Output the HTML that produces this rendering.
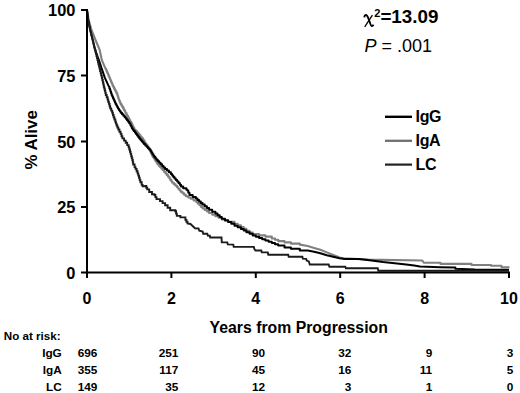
<!DOCTYPE html>
<html><head><meta charset="utf-8"><style>
html,body{margin:0;padding:0;background:#fff;width:520px;height:393px;overflow:hidden}
svg{display:block}
text{font-family:"Liberation Sans",sans-serif}
</style></head><body>
<svg width="520" height="393" viewBox="0 0 520 393">
<polyline points="87.0,10.0 88.7,20.0 91.5,30.0 95.5,40.0 97.2,44.0 99.7,50.0 101.8,60.0 105.6,68.9 106.2,68.9 106.2,70.4 106.8,70.4 106.8,71.9 107.4,71.9 107.4,73.3 108.1,73.3 108.1,74.8 108.7,74.8 108.7,76.3 109.3,76.3 109.3,77.8 110.0,77.8 110.0,79.3 110.6,79.3 110.6,80.8 111.2,80.8 111.2,82.2 111.9,82.2 111.9,83.7 112.5,83.7 112.5,85.2 113.2,85.2 113.2,86.7 114.0,86.7 114.0,88.4 114.8,88.4 114.8,90.0 115.7,90.0 115.7,91.7 116.5,91.7 116.5,93.3 117.3,93.3 117.3,95.0 117.8,95.0 117.8,96.5 118.2,96.5 118.2,98.0 118.7,98.0 118.7,99.5 119.3,99.5 119.3,101.0 119.9,101.0 119.9,102.4 120.5,102.4 120.5,103.9 121.4,103.9 121.4,105.4 122.3,105.4 122.3,106.9 123.2,106.9 123.2,108.4 123.9,108.4 123.9,109.9 124.7,109.9 124.7,111.3 125.4,111.3 125.4,112.8 126.3,112.8 126.3,114.3 127.1,114.3 127.1,115.8 128.0,115.8 128.0,117.3 128.8,117.3 128.8,118.8 129.5,118.8 129.5,120.2 130.3,120.2 130.3,121.7 131.2,121.7 131.2,123.3 132.1,123.3 132.1,125.0 132.8,125.0 132.8,126.6 133.6,126.6 133.6,128.1 134.3,128.1 134.3,129.7 135.6,129.7 135.6,131.1 136.9,131.1 136.9,132.5 138.2,132.5 138.2,133.9 139.4,133.9 139.4,135.4 140.5,135.4 140.5,136.9 141.7,136.9 141.7,138.4 143.1,138.4 143.1,140.4 144.5,140.4 144.5,142.3 145.5,142.3 145.5,143.7 146.5,143.7 146.5,145.1 147.5,145.1 147.5,146.5 148.5,146.5 148.5,148.2 149.5,148.2 149.5,150.0 150.3,150.0 150.3,151.8 151.1,151.8 151.1,153.6 151.9,153.6 151.9,155.4 152.8,155.4 152.8,156.9 153.8,156.9 153.8,158.3 154.7,158.3 154.7,159.8 155.6,159.8 155.6,161.3 156.6,161.3 156.6,162.8 157.5,162.8 157.5,164.3 158.8,164.3 158.8,165.8 160.2,165.8 160.2,167.2 161.5,167.2 161.5,168.7 162.8,168.7 162.8,170.3 164.2,170.3 164.2,171.9 165.5,171.9 165.5,173.5 166.8,173.5 166.8,175.1 168.1,175.1 168.1,176.8 169.4,176.8 169.4,178.4 170.3,178.4 170.3,179.9 171.3,179.9 171.3,181.3 172.2,181.3 172.2,182.8 173.8,182.8 173.8,184.3 175.5,184.3 175.5,185.8 177.1,185.8 177.1,187.3 178.3,187.3 178.3,188.8 179.5,188.8 179.5,190.2 180.7,190.2 180.7,191.7 182.4,191.7 182.4,193.2 184.1,193.2 184.1,194.7 185.8,194.7 185.8,196.2 188.2,196.2 188.2,197.5 190.7,197.5 190.7,198.8 193.6,198.8 193.6,200.5 196.4,200.5 196.4,202.2 198.0,202.2 198.0,203.8 199.6,203.8 199.6,205.3 201.1,205.3 201.1,206.9 202.7,206.9 202.7,208.5 204.8,208.5 204.8,210.0 207.0,210.0 207.0,211.5 209.1,211.5 209.1,213.0 212.2,213.0 212.2,214.6 215.4,214.6 215.4,216.2 218.6,216.2 218.6,217.8 221.8,217.8 221.8,219.4 225.0,219.4 225.0,220.7 228.2,220.7 228.2,221.9 234.5,221.9 234.5,223.8 237.7,223.8 237.7,225.4 240.9,225.4 240.9,227.0 243.7,227.0 243.7,228.9 246.4,228.9 246.4,230.9 249.6,230.9 249.6,232.5 252.7,232.5 252.7,234.1 259.1,234.1 259.1,235.4 265.4,235.4 265.4,236.6 271.8,236.6 271.8,238.5 275.0,238.5 275.0,239.8 278.2,239.8 278.2,241.1 284.5,241.1 284.5,242.4 290.9,242.4 290.9,243.6 299.8,243.6 299.8,244.6 307.7,246.0 314.1,247.9 320.4,249.8 326.8,252.4 333.2,254.9 339.5,257.4 343.3,258.3 368.5,259.6 422.3,260.5 423.8,262.8 440.5,262.8 440.5,263.9 471.5,263.9 471.5,265.0 491.0,265.0 491.0,265.8 501.5,265.8 501.5,267.2 509.5,267.2" fill="none" stroke="#808080" stroke-width="2.1" stroke-linejoin="round"/>
<polyline points="87.0,10.0 88.2,20.0 90.2,30.0 92.8,40.0 95.2,50.0 98.9,60.0 101.8,68.9 104.9,77.8 108.9,86.7 109.4,86.7 109.4,88.4 110.0,88.4 110.0,90.0 110.5,90.0 110.5,91.7 111.1,91.7 111.1,93.3 111.6,93.3 111.6,95.0 112.3,95.0 112.3,96.5 112.9,96.5 112.9,98.0 113.6,98.0 113.6,99.5 114.3,99.5 114.3,101.0 114.9,101.0 114.9,102.4 115.6,102.4 115.6,103.9 116.4,103.9 116.4,105.4 117.2,105.4 117.2,106.9 118.0,106.9 118.0,108.4 118.9,108.4 118.9,109.9 119.8,109.9 119.8,111.3 120.7,111.3 120.7,112.8 122.0,112.8 122.0,114.3 123.4,114.3 123.4,115.8 124.7,115.8 124.7,117.3 125.9,117.3 125.9,118.8 127.0,118.8 127.0,120.2 128.2,120.2 128.2,121.7 129.2,121.7 129.2,123.3 130.3,123.3 130.3,125.0 131.1,125.0 131.1,126.5 131.8,126.5 131.8,128.0 132.6,128.0 132.6,129.5 133.7,129.5 133.7,131.0 134.9,131.0 134.9,132.4 136.0,132.4 136.0,133.9 137.1,133.9 137.1,135.4 138.2,135.4 138.2,136.9 139.3,136.9 139.3,138.4 140.4,138.4 140.4,139.8 141.5,139.8 141.5,141.1 142.6,141.1 142.6,142.5 143.9,142.5 143.9,143.9 145.3,143.9 145.3,145.4 146.6,145.4 146.6,146.8 147.9,146.8 147.9,148.2 149.3,148.2 149.3,149.5 150.6,149.5 150.6,150.9 151.5,150.9 151.5,152.4 152.4,152.4 152.4,153.9 153.3,153.9 153.3,155.4 154.3,155.4 154.3,156.9 155.4,156.9 155.4,158.3 156.4,158.3 156.4,159.8 157.8,159.8 157.8,161.3 159.2,161.3 159.2,162.8 160.6,162.8 160.6,164.3 162.1,164.3 162.1,165.9 163.5,165.9 163.5,167.4 165.0,167.4 165.0,169.0 167.0,169.0 167.0,170.6 168.9,170.6 168.9,172.3 170.9,172.3 170.9,173.9 172.1,173.9 172.1,175.4 173.3,175.4 173.3,176.9 174.5,176.9 174.5,178.4 175.8,178.4 175.8,180.0 177.2,180.0 177.2,181.5 178.5,181.5 178.5,183.1 179.8,183.1 179.8,184.8 181.0,184.8 181.0,186.5 183.2,186.5 183.2,188.2 186.4,188.2 186.4,189.8 187.5,189.8 187.5,190.6 188.3,190.6 188.3,192.8 189.5,192.8 189.5,195.0 192.7,195.0 192.7,197.0 195.9,197.0 195.9,198.5 197.5,198.5 197.5,199.9 199.1,199.9 199.1,201.4 200.8,201.4 200.8,202.9 202.5,202.9 202.5,204.4 204.7,204.4 204.7,206.2 206.9,206.2 206.9,208.0 209.1,208.0 209.1,209.8 212.2,209.8 212.2,211.7 215.4,211.7 215.4,213.6 217.5,213.6 217.5,215.3 219.7,215.3 219.7,217.0 221.8,217.0 221.8,218.7 225.0,218.7 225.0,220.3 228.2,220.3 228.2,221.9 231.3,221.9 231.3,223.8 234.5,223.8 234.5,225.7 237.7,225.7 237.7,227.3 240.9,227.3 240.9,228.9 243.7,228.9 243.7,230.6 246.4,230.6 246.4,232.2 249.6,232.2 249.6,233.8 252.7,233.8 252.7,235.4 255.9,235.4 255.9,236.7 259.1,236.7 259.1,237.9 262.2,237.9 262.2,239.2 265.4,239.2 265.4,240.4 268.6,240.4 268.6,241.7 271.8,241.7 271.8,243.0 275.0,243.0 275.0,244.2 278.2,244.2 278.2,245.5 284.5,245.5 284.5,247.4 290.9,247.4 290.9,248.7 299.8,248.7 299.8,250.4 307.7,250.6 314.1,251.7 320.4,253.2 326.8,255.3 333.2,256.8 339.5,258.3 345.0,259.0 359.2,259.0 371.5,260.4 383.0,262.1 394.6,263.3 406.2,264.4 414.2,265.6 420.0,266.5 440.0,267.2 455.4,267.5 455.4,268.7 474.8,269.5 509.0,269.8" fill="none" stroke="#000" stroke-width="2" stroke-linejoin="round"/>
<polyline points="87.0,10.0 88.2,20.0 90.2,30.0 92.6,40.0 95.0,50.0 95.5,50.0 95.5,52.0 96.0,52.0 96.0,54.0 96.5,54.0 96.5,56.0 97.0,56.0 97.0,58.0 97.5,58.0 97.5,60.0 98.0,60.0 98.0,62.2 98.5,62.2 98.5,64.5 99.1,64.5 99.1,66.7 99.6,66.7 99.6,68.9 100.1,68.9 100.1,71.1 100.7,71.1 100.7,73.3 101.2,73.3 101.2,75.6 101.8,75.6 101.8,77.8 102.3,77.8 102.3,80.0 102.8,80.0 102.8,82.2 103.3,82.2 103.3,84.5 103.8,84.5 103.8,86.7 104.3,86.7 104.3,88.8 104.8,88.8 104.8,90.8 105.3,90.8 105.3,92.9 105.8,92.9 105.8,95.0 106.7,95.0 106.7,97.2 107.6,97.2 107.6,99.5 108.2,99.5 108.2,101.7 108.9,101.7 108.9,103.9 109.6,103.9 109.6,106.2 110.2,106.2 110.2,108.4 111.2,108.4 111.2,110.6 112.2,110.6 112.2,112.8 112.9,112.8 112.9,115.0 113.6,115.0 113.6,117.3 114.4,117.3 114.4,119.5 115.3,119.5 115.3,121.7 115.9,121.7 115.9,123.6 116.6,123.6 116.6,125.5 117.4,125.5 117.4,127.5 118.3,127.5 118.3,129.5 119.4,129.5 119.4,131.7 120.6,131.7 120.6,133.9 121.5,133.9 121.5,136.2 122.4,136.2 122.4,138.4 124.1,138.4 124.1,140.6 125.7,140.6 125.7,142.8 127.2,142.8 127.2,145.1 128.6,145.1 128.6,147.3 129.3,147.3 129.3,149.5 130.0,149.5 130.0,151.7 130.6,151.7 130.6,153.9 131.2,153.9 131.2,156.2 131.8,156.2 131.8,158.1 132.3,158.1 132.3,160.0 132.8,160.0 132.8,162.2 133.2,162.2 133.2,164.5 134.6,164.5 134.6,167.1 135.5,167.1 135.5,168.9 136.6,168.9 136.6,171.2 137.6,171.2 137.6,173.4 138.3,173.4 138.3,175.6 139.0,175.6 139.0,177.8 139.7,177.8 139.7,180.1 140.4,180.1 140.4,182.3 141.7,182.3 141.7,184.9 142.6,184.9 142.6,186.3 145.5,186.3 145.5,186.0 146.3,186.0 146.3,187.7 147.2,187.7 147.2,189.4 149.2,189.4 149.2,192.0 152.0,192.0 152.0,194.3 154.4,194.3 154.4,195.0 155.4,195.0 155.4,197.1 156.5,197.1 156.5,199.1 160.0,199.1 160.0,201.1 162.6,201.1 162.6,203.1 165.1,203.1 165.1,205.2 167.6,205.2 167.6,207.8 170.2,207.8 170.2,210.3 175.3,210.3 175.3,211.3 176.1,211.3 176.1,213.6 176.8,213.6 176.8,215.9 180.4,215.9 180.4,217.4 185.4,217.4 185.4,219.9 186.4,219.9 186.4,221.7 187.5,221.7 187.5,223.5 190.5,224.0 195.0,228.3 198.5,228.5 199.3,230.8 202.7,231.5 203.2,233.7 207.3,233.7 207.8,235.5 209.8,235.7 210.2,237.5 221.5,237.5 221.8,242.4 227.3,242.4 227.8,244.4 233.3,244.6 233.7,246.9 253.8,246.9 254.6,249.6 255.5,250.5 261.3,250.5 261.8,252.4 267.8,252.4 268.3,254.7 288.2,254.7 288.7,256.7 302.4,256.7 302.8,258.6 306.2,258.8 306.7,260.5 308.8,261.5 309.8,264.5 328.7,264.5 329.4,266.7 345.3,266.7 345.9,268.3 377.7,268.3 378.3,270.8 509.0,270.8" fill="none" stroke="#1c1c1c" stroke-width="1.9" stroke-linejoin="miter"/>
<path d="M87 9 V278 M86 272.5 H510" stroke="#000" stroke-width="2" fill="none"/>
<path d="M81 10 H87" stroke="#000" stroke-width="2"/>
<path d="M81 75.5 H87" stroke="#000" stroke-width="2"/>
<path d="M81 141.5 H87" stroke="#000" stroke-width="2"/>
<path d="M81 207 H87" stroke="#000" stroke-width="2"/>
<path d="M81 272.5 H87" stroke="#000" stroke-width="2"/>
<path d="M87.0 272 V278" stroke="#000" stroke-width="2"/>
<path d="M171.4 272 V278" stroke="#000" stroke-width="2"/>
<path d="M255.8 272 V278" stroke="#000" stroke-width="2"/>
<path d="M340.2 272 V278" stroke="#000" stroke-width="2"/>
<path d="M424.6 272 V278" stroke="#000" stroke-width="2"/>
<path d="M509.0 272 V278" stroke="#000" stroke-width="2"/>
<path d="M385 116.8 H412" stroke="#000" stroke-width="2.4"/>
<path d="M385 140.8 H412" stroke="#707070" stroke-width="2.3"/>
<path d="M385 164.6 H412" stroke="#222" stroke-width="2.2"/>
<path d="M364.3,17.4 C364.5,15.6 365.4,14.7 366.4,15.1 C367.5,15.6 368.5,18.3 369.4,21 C370.2,23.6 370.9,26.1 371.9,26.1 C372.6,26.1 373.1,25.4 373.4,24.6" fill="none" stroke="#000" stroke-width="1.9"/>
<path d="M372.4,15.2 L364.7,26.8" fill="none" stroke="#000" stroke-width="1.3"/>
<text x="75.4" y="16.1" text-anchor="end" font-family="Liberation Sans" font-weight="bold" font-size="16.4">100</text>
<text x="75.4" y="81.6" text-anchor="end" font-family="Liberation Sans" font-weight="bold" font-size="16.4">75</text>
<text x="75.4" y="147.6" text-anchor="end" font-family="Liberation Sans" font-weight="bold" font-size="16.4">50</text>
<text x="75.4" y="213.1" text-anchor="end" font-family="Liberation Sans" font-weight="bold" font-size="16.4">25</text>
<text x="75.4" y="278.6" text-anchor="end" font-family="Liberation Sans" font-weight="bold" font-size="16.4">0</text>
<text x="87.0" y="304.2" text-anchor="middle" font-family="Liberation Sans" font-weight="bold" font-size="16">0</text>
<text x="171.4" y="304.2" text-anchor="middle" font-family="Liberation Sans" font-weight="bold" font-size="16">2</text>
<text x="255.8" y="304.2" text-anchor="middle" font-family="Liberation Sans" font-weight="bold" font-size="16">4</text>
<text x="340.2" y="304.2" text-anchor="middle" font-family="Liberation Sans" font-weight="bold" font-size="16">6</text>
<text x="424.6" y="304.2" text-anchor="middle" font-family="Liberation Sans" font-weight="bold" font-size="16">8</text>
<text x="509.0" y="304.2" text-anchor="middle" font-family="Liberation Sans" font-weight="bold" font-size="16">10</text>
<text x="209.6" y="333" font-family="Liberation Sans" font-weight="bold" font-size="15.8">Years from Progression</text>
<text transform="translate(37.2,169.6) rotate(-90)" font-family="Liberation Sans" font-weight="bold" font-size="16.9">% Alive</text>
<text x="415.6" y="122.2" font-family="Liberation Sans" font-weight="bold" font-size="16" letter-spacing="-0.35">IgG</text>
<text x="415.6" y="146.2" font-family="Liberation Sans" font-weight="bold" font-size="16" letter-spacing="-0.35">IgA</text>
<text x="415.6" y="169.8" font-family="Liberation Sans" font-weight="bold" font-size="16" letter-spacing="-0.35">LC</text>
<text x="374.3" y="16.9" font-family="Liberation Sans" font-weight="bold" font-size="11">2</text>
<text x="380.4" y="23.4" font-family="Liberation Sans" font-weight="bold" font-size="18.8">=13.09</text>
<text x="364.5" y="52" font-family="Liberation Sans" font-size="18"><tspan font-style="italic">P</tspan> = .001</text>
<text x="3.8" y="339.9" font-family="Liberation Sans" font-weight="bold" font-size="11.6">No at risk:</text>
<text x="61.8" y="356.8" text-anchor="end" font-family="Liberation Sans" font-weight="bold" font-size="11.8">IgG</text>
<text x="97.4" y="356.8" text-anchor="end" font-family="Liberation Sans" font-weight="bold" font-size="11.8">696</text>
<text x="178.4" y="356.8" text-anchor="end" font-family="Liberation Sans" font-weight="bold" font-size="11.8">251</text>
<text x="265.2" y="356.8" text-anchor="end" font-family="Liberation Sans" font-weight="bold" font-size="11.8">90</text>
<text x="351.4" y="356.8" text-anchor="end" font-family="Liberation Sans" font-weight="bold" font-size="11.8">32</text>
<text x="432.2" y="356.8" text-anchor="end" font-family="Liberation Sans" font-weight="bold" font-size="11.8">9</text>
<text x="513.4" y="356.8" text-anchor="end" font-family="Liberation Sans" font-weight="bold" font-size="11.8">3</text>
<text x="61.8" y="373.8" text-anchor="end" font-family="Liberation Sans" font-weight="bold" font-size="11.8">IgA</text>
<text x="97.4" y="373.8" text-anchor="end" font-family="Liberation Sans" font-weight="bold" font-size="11.8">355</text>
<text x="178.4" y="373.8" text-anchor="end" font-family="Liberation Sans" font-weight="bold" font-size="11.8">117</text>
<text x="265.2" y="373.8" text-anchor="end" font-family="Liberation Sans" font-weight="bold" font-size="11.8">45</text>
<text x="351.4" y="373.8" text-anchor="end" font-family="Liberation Sans" font-weight="bold" font-size="11.8">16</text>
<text x="432.2" y="373.8" text-anchor="end" font-family="Liberation Sans" font-weight="bold" font-size="11.8">11</text>
<text x="513.4" y="373.8" text-anchor="end" font-family="Liberation Sans" font-weight="bold" font-size="11.8">5</text>
<text x="61.8" y="390.5" text-anchor="end" font-family="Liberation Sans" font-weight="bold" font-size="11.8">LC</text>
<text x="97.4" y="390.5" text-anchor="end" font-family="Liberation Sans" font-weight="bold" font-size="11.8">149</text>
<text x="178.4" y="390.5" text-anchor="end" font-family="Liberation Sans" font-weight="bold" font-size="11.8">35</text>
<text x="265.2" y="390.5" text-anchor="end" font-family="Liberation Sans" font-weight="bold" font-size="11.8">12</text>
<text x="351.4" y="390.5" text-anchor="end" font-family="Liberation Sans" font-weight="bold" font-size="11.8">3</text>
<text x="432.2" y="390.5" text-anchor="end" font-family="Liberation Sans" font-weight="bold" font-size="11.8">1</text>
<text x="513.4" y="390.5" text-anchor="end" font-family="Liberation Sans" font-weight="bold" font-size="11.8">0</text>
</svg>
</body></html>
